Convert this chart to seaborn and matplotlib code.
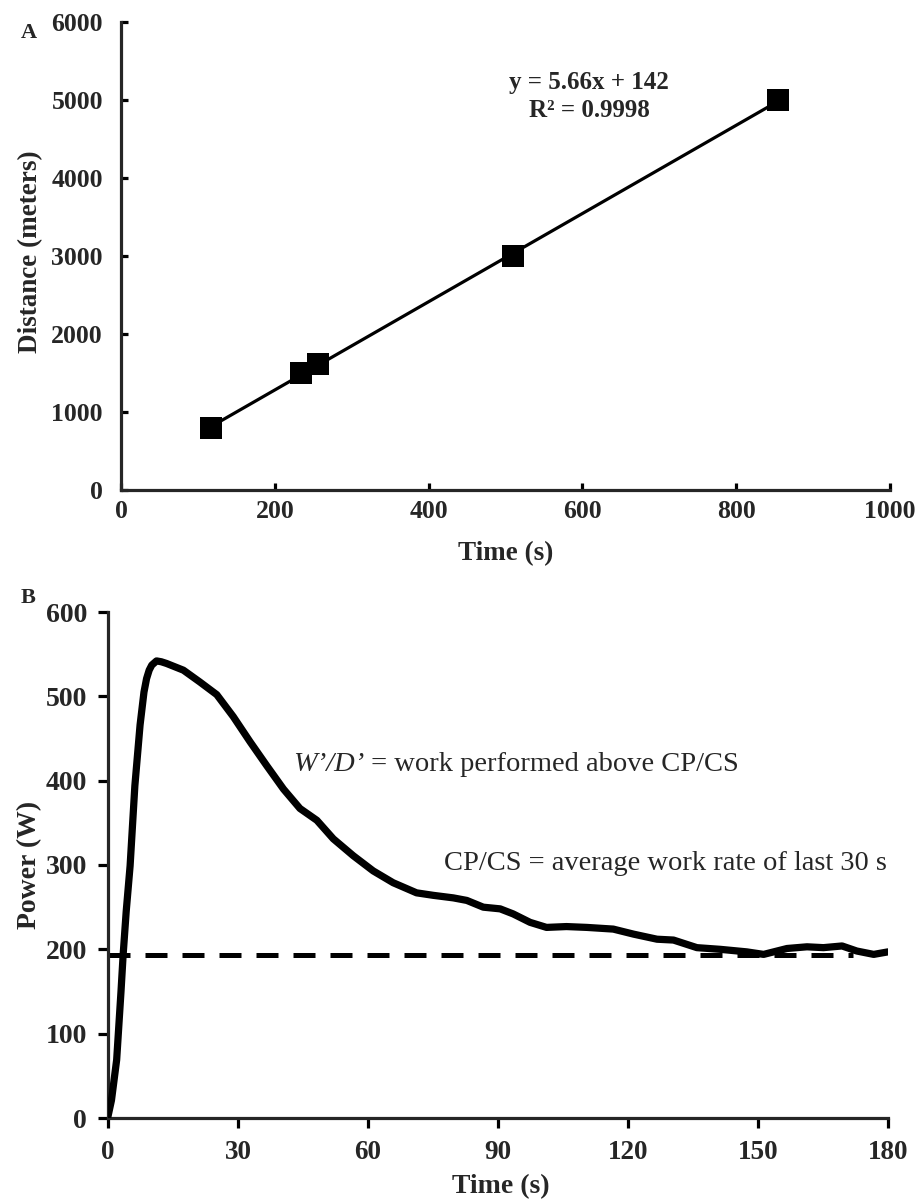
import matplotlib
matplotlib.use("Agg")
import matplotlib.pyplot as plt
import seaborn as sns
import numpy as np
import pandas as pd

# ---------------- data ----------------
# Panel A: distance-time relationship
trial_time_s = [117, 234, 256, 510, 855]
trial_distance_m = [800, 1500, 1609, 3000, 5000]
fit_text = "y = 5.66x + 142"
r2_text = "R² = 0.9998"

# Panel B: 3-min all-out power profile
power_time_s = [0, 0.8, 2.0, 3.0, 3.5, 4.2, 5.1, 6.2, 7.4, 8.3, 8.9, 9.5, 10.1, 11.2, 12.3, 13.5,
                17.4, 21.2, 25.1, 28.9, 32.8, 36.6, 40.5, 44.3, 48.2, 52.0, 56.6,
                61.2, 65.8, 71.2, 75.1, 79.7, 82.8, 86.6, 90.5, 93.5, 97.4, 101.2,
                105.8, 110.5, 116.6, 121.3, 126.7, 130.5, 135.9, 141.3, 147.4,
                151.3, 156.7, 161.3, 165.1, 169.4, 172.8, 176.7, 180]
power_w = [2, 21, 69, 150, 194, 245, 299, 394, 466, 505, 521, 531, 537, 542, 541, 539,
           531, 517, 502, 476, 446, 418, 390, 367, 353, 331, 311,
           293, 279, 267, 264, 261, 258, 250, 248, 242, 232, 226,
           227, 226, 224, 218, 212, 211, 202, 200, 197,
           194, 201, 203, 202, 204, 198, 194, 197]
cp_time_s = [0, 172]
cp_power_w = [193, 193]

x_ticks_a = [0, 200, 400, 600, 800, 1000]
y_ticks_a = [0, 1000, 2000, 3000, 4000, 5000, 6000]
x_ticks_b = [0, 30, 60, 90, 120, 150, 180]
y_ticks_b = [0, 100, 200, 300, 400, 500, 600]

# ---------------- style ----------------
sns.set_theme(style="ticks")
plt.rcParams["font.family"] = ["Liberation Serif", "DejaVu Serif"]
plt.rcParams["axes.linewidth"] = 2.3

W, H = 915, 1201
fig = plt.figure(figsize=(W / 100, H / 100), dpi=100)

def px_axes(l, r, t, b):
    return fig.add_axes([l / W, 1 - b / H, (r - l) / W, (b - t) / H])

# ---------------- Panel A ----------------
axA = px_axes(121, 890, 22, 490)
dfA = pd.DataFrame({"time": trial_time_s, "distance": trial_distance_m})
sns.regplot(data=dfA, x="time", y="distance", ax=axA, ci=None, truncate=True,
            marker="s", color="black",
            scatter_kws={"s": 250, "edgecolor": "black", "linewidths": 0, "alpha": 1, "zorder": 3},
            line_kws={"lw": 2.3, "color": "black", "zorder": 2})
axA.set_xlim(0, 1000)
axA.set_ylim(0, 6000)
axA.set_xticks(x_ticks_a)
axA.set_yticks(y_ticks_a)
sns.despine(ax=axA)
axA.tick_params(direction="in", length=5, width=2.3, color="black")
axA.tick_params(axis="y", pad=13)
axA.tick_params(axis="x", pad=7)
for lab in axA.get_xticklabels() + axA.get_yticklabels():
    lab.set_fontsize(18.5)
    lab.set_fontweight("bold")
axA.set_xlabel("Time (s)", fontsize=19.5, fontweight="bold")
axA.set_ylabel("Distance (meters)", fontsize=19.5, fontweight="bold")
axA.xaxis.set_label_coords(0.5, -0.137)
axA.yaxis.set_label_coords(-0.117, 0.51)
axA.xaxis.label.set_va("center")
axA.yaxis.label.set_va("center")
axA.text(609, 5230, fit_text, ha="center", va="center", fontsize=18, fontweight="bold")
axA.text(609, 4870, r2_text, ha="center", va="center", fontsize=18, fontweight="bold")
fig.text(29 / W, 1 - 33 / H, "A", ha="center", va="center", fontsize=16, fontweight="bold")

# ---------------- Panel B ----------------
axB = px_axes(108, 888, 612, 1118)
dfB = pd.DataFrame({"time": power_time_s, "power": power_w})
dfCP = pd.DataFrame({"time": cp_time_s, "power": cp_power_w})
sns.lineplot(data=dfCP, x="time", y="power", ax=axB, color="black", lw=3.6,
             linestyle=(0, (4.4, 3.0)), zorder=2)
sns.lineplot(data=dfB, x="time", y="power", ax=axB, color="black", lw=5.2,
             solid_joinstyle="round", solid_capstyle="round", zorder=3)
axB.set_xlim(0, 180)
axB.set_ylim(0, 600)
axB.set_xticks(x_ticks_b)
axB.set_yticks(y_ticks_b)
sns.despine(ax=axB)
axB.tick_params(direction="out", length=7, width=2.3, color="black")
axB.tick_params(axis="y", pad=8)
axB.tick_params(axis="x", pad=9)
for lab in axB.get_yticklabels():
    lab.set_fontsize(20)
    lab.set_fontweight("bold")
for lab in axB.get_xticklabels():
    lab.set_fontsize(19.5)
    lab.set_fontweight("bold")
axB.set_xlabel("Time (s)", fontsize=20, fontweight="bold")
axB.set_ylabel("Power (W)", fontsize=20, fontweight="bold")
axB.xaxis.set_label_coords(0.503, -0.136)
axB.yaxis.set_label_coords(-0.1, 0.5)
axB.xaxis.label.set_va("center")
axB.yaxis.label.set_va("center")

t1 = axB.text(42.7, 419, "W’/D’", ha="left", va="center", fontsize=20.5, fontstyle="italic")
axB.annotate(" = work performed above CP/CS", xy=(1, 0.5), xycoords=t1,
             ha="left", va="center", fontsize=20.5)
axB.text(77.5, 302, "CP/CS = average work rate of last 30 s", ha="left", va="center", fontsize=20.5)
fig.text(28 / W, 1 - 598 / H, "B", ha="center", va="center", fontsize=16, fontweight="bold")

fig.savefig("out.png", dpi=100)
